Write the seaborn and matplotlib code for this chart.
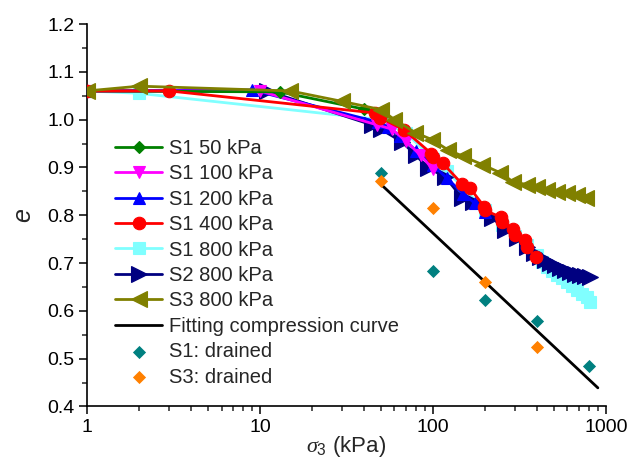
import numpy as np
import pandas as pd
import matplotlib
matplotlib.use("Agg")
import matplotlib.pyplot as plt
from matplotlib.ticker import FixedLocator, FixedFormatter, LogLocator, MultipleLocator, NullFormatter
import seaborn as sns

# ---- consolidation curves: void ratio e against confining stress sigma_3 (kPa) ----
s1_50_x = [1, 13, 40, 50]
s1_50_e = [1.060, 1.058, 1.022, 1.005]

s1_100_x = [1, 10, 47.6, 58, 70, 85, 100]
s1_100_e = [1.060, 1.060, 0.989, 0.980, 0.955, 0.925, 0.897]

s1_200_x = [1, 9, 48, 55, 65, 80, 100, 120, 150, 175, 200]
s1_200_e = [1.060, 1.062, 0.995, 0.985, 0.965, 0.935, 0.905, 0.878, 0.845, 0.825, 0.806]

s1_400_x = [1, 3, 46, 49.5, 68, 98, 100, 114, 147, 164, 198, 200, 248, 252, 291, 299, 341, 351, 395]
s1_400_e = [1.060, 1.060, 1.014, 1.004, 0.979, 0.929, 0.922, 0.909, 0.866, 0.857, 0.818,
            0.810, 0.796, 0.785, 0.772, 0.758, 0.748, 0.733, 0.712]

s1_800_x = [1, 2, 50, 55, 70, 100, 120, 150, 200, 250, 300, 350, 400, 430, 460, 490, 523,
            560, 597, 640, 682, 730, 780, 811]
s1_800_e = [1.060, 1.055, 1.000, 0.990, 0.972, 0.918, 0.893, 0.858, 0.810, 0.780, 0.757,
            0.737, 0.716, 0.703, 0.692, 0.683, 0.675, 0.668, 0.660, 0.652, 0.644, 0.636,
            0.628, 0.619]

s2_800_x = [1, 11, 44.5, 50, 66, 80, 94, 118, 147, 171, 220, 262, 307, 351, 385, 417, 446,
            476, 510, 544, 580, 622, 665, 710, 760, 811]
s2_800_e = [1.060, 1.060, 0.989, 0.980, 0.954, 0.925, 0.899, 0.880, 0.837, 0.828, 0.795,
            0.770, 0.753, 0.734, 0.722, 0.713, 0.706, 0.700, 0.695, 0.690, 0.686, 0.682,
            0.678, 0.675, 0.673, 0.671]

s3_800_x = [1, 2, 15, 30, 50, 60, 79, 99, 122, 150, 193, 245, 291, 351, 401, 458, 523,
            597, 682, 770]
s3_800_e = [1.060, 1.070, 1.060, 1.038, 1.021, 1.000, 0.973, 0.958, 0.937, 0.923, 0.906,
            0.889, 0.870, 0.864, 0.860, 0.853, 0.849, 0.847, 0.843, 0.836]

# fitted normal compression line
fit_x = [50, 900]
fit_e = [0.865, 0.439]

# drained test end points
s1_dr_x = [50, 100, 200, 400, 800]
s1_dr_e = [0.888, 0.684, 0.622, 0.579, 0.485]
s3_dr_x = [50, 100, 200, 400]
s3_dr_e = [0.872, 0.816, 0.660, 0.524]

sns.set_style("ticks")
plt.rcParams["font.family"] = ["Liberation Sans", "DejaVu Sans"]
plt.rcParams["mathtext.fontset"] = "custom"
plt.rcParams["mathtext.it"] = "Liberation Serif:italic"
plt.rcParams["mathtext.rm"] = "Liberation Sans"

fig = plt.figure(figsize=(6.33, 4.59), dpi=100)
ax = fig.add_axes([0.1374, 0.1144, 0.8196, 0.8333])

series = [
    ("S1 50 kPa", s1_50_x, s1_50_e, "#008000", "D", 6),
    ("S1 100 kPa", s1_100_x, s1_100_e, "#FF00FF", "v", 9),
    ("S1 200 kPa", s1_200_x, s1_200_e, "#0000FF", "^", 9),
    ("S1 400 kPa", s1_400_x, s1_400_e, "#FF0000", "o", 9),
    ("S1 800 kPa", s1_800_x, s1_800_e, "#80FFFF", "s", 9),
    ("S2 800 kPa", s2_800_x, s2_800_e, "#000080", ">", 11),
    ("S3 800 kPa", s3_800_x, s3_800_e, "#808000", "<", 12),
]
zorders = {"S1 800 kPa": 2, "S2 800 kPa": 3, "S1 200 kPa": 4, "S1 100 kPa": 5,
           "S1 50 kPa": 6, "S1 400 kPa": 7, "S3 800 kPa": 8}

for name, xs, es, col, mk, ms in series:
    df = pd.DataFrame({"sigma3": xs, "e": es})
    sns.lineplot(data=df, x="sigma3", y="e", ax=ax, color=col, marker=mk,
                 markersize=ms, markeredgecolor=col, markeredgewidth=0.8,
                 linewidth=2, label=name, estimator=None, sort=False,
                 zorder=zorders[name])

fit_df = pd.DataFrame({"sigma3": fit_x, "e": fit_e})
sns.lineplot(data=fit_df, x="sigma3", y="e", ax=ax, color="black", linewidth=2,
             label="Fitting compression curve", estimator=None, sort=False, zorder=9)

s1_dr = pd.DataFrame({"sigma3": s1_dr_x, "e": s1_dr_e})
s3_dr = pd.DataFrame({"sigma3": s3_dr_x, "e": s3_dr_e})
sns.scatterplot(data=s1_dr, x="sigma3", y="e", ax=ax, color="#008080", marker="D",
                s=45, edgecolor="#008080", linewidth=0, label="S1: drained", zorder=10)
sns.scatterplot(data=s3_dr, x="sigma3", y="e", ax=ax, color="#FF8000", marker="D",
                s=45, edgecolor="#FF8000", linewidth=0, label="S3: drained", zorder=10)

ax.set_xscale("log")
ax.set_xlim(1, 1000)
ax.set_ylim(0.4, 1.2)

ax.xaxis.set_major_locator(FixedLocator([1, 10, 100, 1000]))
ax.xaxis.set_major_formatter(FixedFormatter(["1", "10", "100", "1000"]))
ax.xaxis.set_minor_locator(LogLocator(base=10, subs=np.arange(2, 10)))
ax.xaxis.set_minor_formatter(NullFormatter())
ax.yaxis.set_major_locator(MultipleLocator(0.1))
ax.yaxis.set_minor_locator(MultipleLocator(0.05))
ax.yaxis.set_major_formatter(plt.FuncFormatter(lambda v, p: f"{v:.1f}"))

ax.tick_params(axis="both", which="major", direction="out", length=6, width=1.1,
               labelsize=14, pad=3, colors="black")
ax.tick_params(axis="both", which="minor", direction="out", length=3.5, width=1.1)
for sp in ("left", "bottom"):
    ax.spines[sp].set_linewidth(1.2)
    ax.spines[sp].set_color("black")
sns.despine(ax=ax)

ax.set_xlabel(r"$\sigma_3$ (kPa)", fontsize=16)
ax.xaxis.set_label_coords(0.5, -0.072)
ax.set_ylabel("e", fontsize=18, fontstyle="italic", rotation=90, va="center")
ax.yaxis.set_label_coords(-0.123, 0.5)

ax.legend(loc="upper left", bbox_to_anchor=(0.054, 0.700), frameon=False,
          fontsize=14.5, handlelength=2.35, handletextpad=0.35, labelspacing=0.32,
          borderpad=0, borderaxespad=0)

fig.savefig("out.png", dpi=100)
